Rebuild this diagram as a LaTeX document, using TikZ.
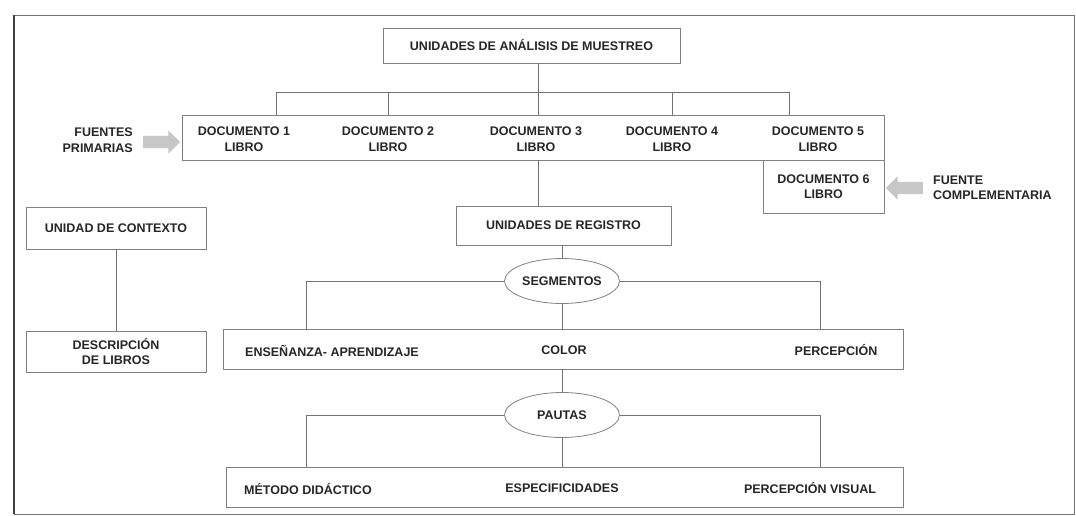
\documentclass[tikz,border=0pt]{standalone}
\usepackage{fontspec}
\setmainfont{Liberation Sans}
\usetikzlibrary{shapes.geometric,shapes.arrows}

\begin{document}
\begin{tikzpicture}[
	x=1pt, y=-1pt,
	lbl/.style={ inner sep=0pt, align=center, font=\bfseries\fontsize{12.5}{15.5}\selectfont, text=black!85 },
	box/.style={ lbl, draw=black!50, line width=0.8pt, rectangle },
	oval/.style={ lbl, draw=black!50, line width=0.8pt, ellipse, minimum width=115pt, minimum height=45pt },
	link/.style={ draw=black!55, line width=0.8pt },
	fatarrow/.style={ single arrow, fill=black!22, draw=none, inner xsep=0pt, inner ysep=6pt, minimum height=37pt, single arrow head extend=5.5pt }
]

\useasboundingbox (0,0) rectangle (1076,516);
\draw[black!55, line width=0.8pt] (14,15) rectangle (1074,514);
\draw[black!75, line width=2pt] (14,15) -- (14,514);

\node[box, minimum width=297pt, minimum height=35pt] (muestreo) at (531.5,45.5) {UNIDADES DE ANÁLISIS DE MUESTREO};

\node[box, minimum width=702pt, minimum height=45pt] (docs) at (533,137.5) {};
\foreach \i/\x in {1/244,2/388,3/536,4/672,5/818}
	\node[lbl] (doc\i) at (\x,139) {DOCUMENTO \i\\LIBRO};
\node[box, minimum width=121pt, minimum height=53pt] (doc6) at (823.5,186.5) {DOCUMENTO 6\\LIBRO};

\node[lbl, anchor=east, align=right] (primarias) at (133,140) {FUENTES\\PRIMARIAS};
\node[fatarrow] (flechaP) at (158.5,142) {};
\node[lbl, anchor=west, align=left] (complementaria) at (933,188) {FUENTE\\COMPLEMENTARIA};
\node[fatarrow, shape border rotate=180] (flechaC) at (907.5,188) {};

\node[box, minimum width=180pt, minimum height=42pt] (contexto) at (116,228) {UNIDAD DE CONTEXTO};
\node[box, minimum width=180pt, minimum height=41pt] (descripcion) at (116,351.5) {DESCRIPCIÓN\\DE LIBROS};
\node[box, minimum width=215pt, minimum height=39pt] (registro) at (563.5,225.5) {UNIDADES DE REGISTRO};

\node[oval] (segmentos) at (562,281) {SEGMENTOS};
\node[box, minimum width=680pt, minimum height=40pt] (segrow) at (563,349) {};
\node[lbl, anchor=west] (ensenanza) at (245,351) {ENSEÑANZA- APRENDIZAJE};
\node[lbl] (color) at (564,350) {COLOR};
\node[lbl] (percepcion) at (836,350) {PERCEPCIÓN};

\node[oval] (pautas) at (562,415) {PAUTAS};
\node[box, minimum width=677pt, minimum height=40pt] (pautrow) at (564.5,487) {};
\node[lbl, anchor=west] (metodo) at (244,489) {MÉTODO DIDÁCTICO};
\node[lbl] (especificidades) at (562,488) {ESPECIFICIDADES};
\node[lbl] (visual) at (810,488) {PERCEPCIÓN VISUAL};

\coordinate (spine) at (538,92);
\coordinate (barL) at (276,92);
\coordinate (barR) at (789,92);
\draw[link] (muestreo.south -| spine) -- (spine |- docs.north);
\draw[link] (barL |- docs.north) -- (barL) -- (barR) -- (barR |- docs.north);
\foreach \p in {doc2,doc4} \draw[link] (\p |- barL) -- (\p |- docs.north);
\draw[link] (spine |- docs.south) -- (spine |- registro.north);
\draw[link] (contexto.south) -- (descripcion.north);
\draw[link] (segmentos |- registro.south) -- (segmentos.north);

\coordinate (segL) at (306,281);
\coordinate (segR) at (820,281);
\draw[link] (segmentos.west) -- (segL) -- (segL |- segrow.north);
\draw[link] (segmentos.east) -- (segR) -- (segR |- segrow.north);
\draw[link] (segmentos.south) -- (segmentos |- segrow.north);
\draw[link] (segmentos |- segrow.south) -- (pautas.north);

\coordinate (pautL) at (306,415);
\coordinate (pautR) at (820,415);
\draw[link] (pautas.west) -- (pautL) -- (pautL |- pautrow.north);
\draw[link] (pautas.east) -- (pautR) -- (pautR |- pautrow.north);
\draw[link] (pautas.south) -- (pautas |- pautrow.north);

\end{tikzpicture}
\end{document}
